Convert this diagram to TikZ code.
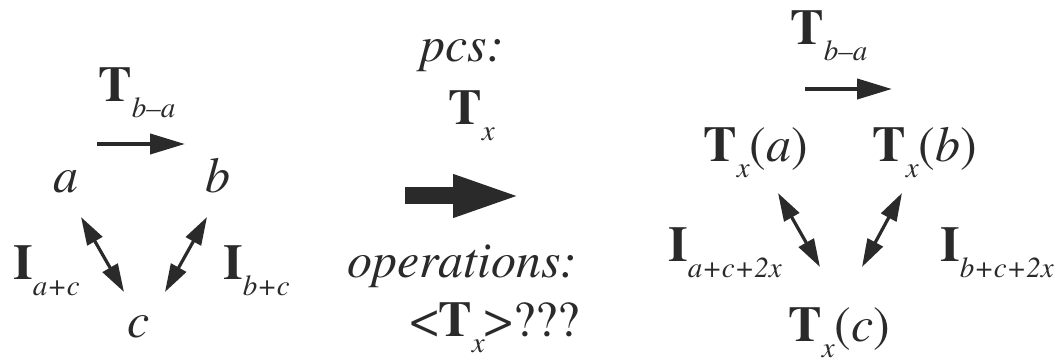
\documentclass[tikz,border=0pt]{standalone}
\usepackage[T1]{fontenc}
\usepackage{mathptmx}
\usetikzlibrary{arrows.meta}
\definecolor{ink}{HTML}{2A2A2A}
\newcommand{\lowsub}[1]{\raisebox{-8pt}{\fontsize{14.5}{15}\selectfont\itshape #1}}
\newcommand{\opT}{\textbf{T}}
\newcommand{\opI}{\textbf{I}}
\tikzset{
  every node/.style={font=\fontsize{25}{30}\selectfont,text=ink,inner sep=0pt,anchor=base west},
  arrow/.style={-{Triangle[length=17.5pt,width=10pt]},line width=2pt,draw=ink},
  dblarrow/.style={{Triangle[length=14pt,width=8.5pt]}-{Triangle[length=14pt,width=8.5pt]},line width=1.6pt,draw=ink},
  bigarrow/.style={-{Triangle[length=35pt,width=19pt]},line width=8.5pt,draw=ink},
}

\begin{document}
\begin{tikzpicture}[x=0.5pt,y=-0.5pt]
\useasboundingbox (0,0) rectangle (1055,362);

% points before the operation
\node (ta) at (98,102) {\opT\lowsub{b--a}};
\node (a) at (53,193) {\textit{a}};
\node (b) at (205,193) {\textit{b}};
\node (c) at (127,338) {\textit{c}};
\node (iac) at (13,280) {\opI\lowsub{a+c}};
\node (ibc) at (223,280) {\opI\lowsub{b+c}};

\coordinate (ta1) at (97,144);
\coordinate (ta2) at (185,144);
\coordinate (ac1) at (81,217);
\coordinate (ac2) at (124,292);
\coordinate (bc1) at (207,217);
\coordinate (bc2) at (165,292);
\draw[arrow] (ta1) -- (ta2);
\draw[dblarrow] (ac1) -- (ac2);
\draw[dblarrow] (bc1) -- (bc2);

% the operation
\node (pcs) at (420,62) {\textit{pcs:}};
\node (tx) at (448,125) {\opT\lowsub{x}};
\node (ops) at (347,278) {\textit{operations:}};
\node (otx) at (410,337) {<\opT\lowsub{x}>???};

\coordinate (big1) at (405,196);
\coordinate (big2) at (523,196);
\draw[bigarrow] (big1) -- (big2);

% points after the operation
\node (tb) at (790,45) {\opT\lowsub{b--a}};
\node (xa) at (703,162) {\opT\lowsub{x}(\textit{a})};
\node (xb) at (872,162) {\opT\lowsub{x}(\textit{b})};
\node (xc) at (788,342) {\opT\lowsub{x}(\textit{c})};
\node (iacx) at (668,262) {\opI\lowsub{a+c+2x}};
\node (ibcx) at (940,262) {\opI\lowsub{b+c+2x}};

\coordinate (tb1) at (805,89);
\coordinate (tb2) at (892,89);
\coordinate (xac1) at (778,193);
\coordinate (xac2) at (820,267);
\coordinate (xbc1) at (902,193);
\coordinate (xbc2) at (862,267);
\draw[arrow] (tb1) -- (tb2);
\draw[dblarrow] (xac1) -- (xac2);
\draw[dblarrow] (xbc1) -- (xbc2);

\end{tikzpicture}
\end{document}
